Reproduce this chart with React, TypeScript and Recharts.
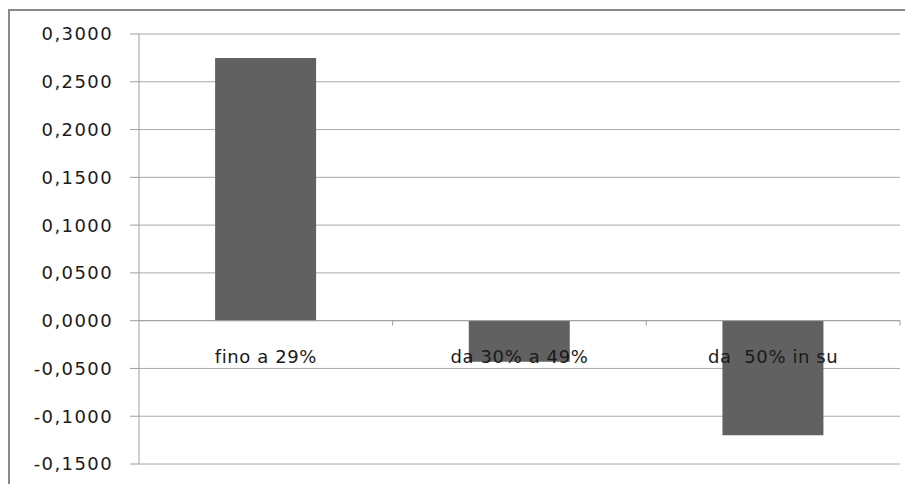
import React from "react";
import {BarChart, Bar, XAxis, YAxis, CartesianGrid, ReferenceLine} from "recharts";

const categories = ["fino a 29%", "da 30% a 49%", "da  50% in su"];
const values = [0.275, -0.043, -0.12];
const yTicks = [-0.15, -0.1, -0.05, 0, 0.05, 0.1, 0.15, 0.2, 0.25, 0.3];

const data = categories.map((name, i) => ({name, value: values[i]}));

const W = 913;
const H = 484;
const X_H = 20;
const M = {top: 34, right: 13, bottom: 0, left: 0};
const Y_MIN = -0.15;
const Y_MAX = 0.3;
const FONT = "'DejaVu Sans', sans-serif";

// y of the zero line, so the category labels sit under it like in Excel
const plotH = H - M.top - M.bottom - X_H;
const zeroY = M.top + plotH * (Y_MAX / (Y_MAX - Y_MIN));

const fmt = (v: number) => v.toFixed(4).replace(".", ",");

const CatTick = (props: any) => {
    const {x, payload} = props;
    const half = (W - M.right - 139) / categories.length / 2;
    return <g>
        <line x1={x + half} x2={x + half} y1={zeroY} y2={zeroY + 5} stroke="#a0a0a0"/>
        <text x={x} y={zeroY + 42} textAnchor="middle" fill="#1a1a1a" fontSize={18}
              fontFamily={FONT} style={{whiteSpace: "pre", letterSpacing: 0.6}}>
            {payload.value}
        </text>
    </g>;
};

export default function App() {
    return <div style={{position: "relative", width: W - 8, height: H - 8}}>
        <div style={{position: "absolute", left: 30, top: -21, fontFamily: FONT, fontSize: 20, lineHeight: "20px", color: "#111"}}>g</div>
        <div style={{
            position: "absolute", left: 0, top: 1, width: W, height: H,
            borderLeft: "2px solid #8a8a8a", borderTop: "2px solid #8a8a8a",
        }}/>
        <div style={{position: "absolute", left: -8, top: -8}}>
            <BarChart width={W} height={H} data={data} margin={M} barCategoryGap="30%">
                <CartesianGrid vertical={false} stroke="#a8a8a8"/>
                <XAxis dataKey="name" height={X_H} axisLine={false} tickLine={false} tick={<CatTick/>} interval={0}/>
                <YAxis width={139} domain={[Y_MIN, Y_MAX]} ticks={yTicks} tickFormatter={fmt}
                       axisLine={{stroke: "#a0a0a0"}} tickLine={{stroke: "#a0a0a0"}} tickSize={9} tickMargin={17}
                       tick={{fill: "#1a1a1a", fontSize: 18, fontFamily: FONT, letterSpacing: 1.4}} allowDataOverflow/>
                <ReferenceLine y={0} stroke="#a0a0a0"/>
                <Bar dataKey="value" fill="#616161" isAnimationActive={false}/>
            </BarChart>
        </div>
    </div>;
}
